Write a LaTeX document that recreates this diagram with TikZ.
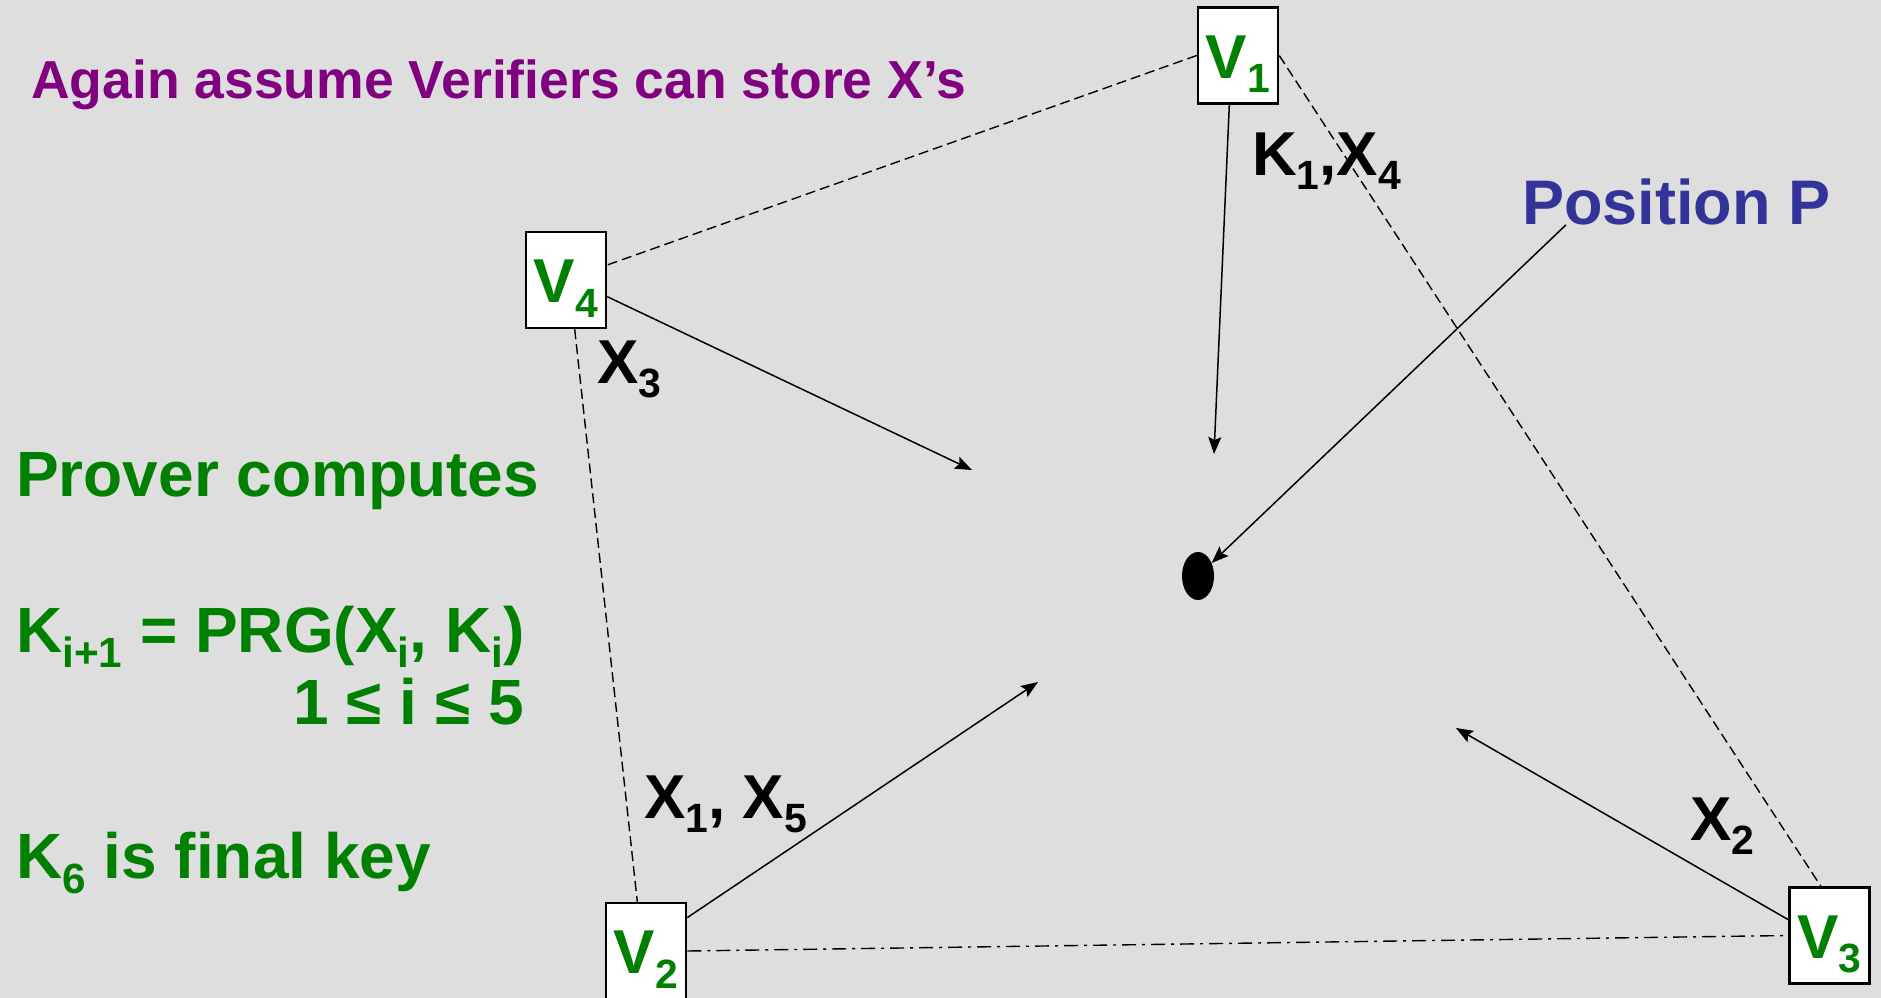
\documentclass[tikz,border=0pt]{standalone}
\usepackage{fontspec}
\setmainfont{Liberation Sans}
\usetikzlibrary{arrows.meta,shapes.geometric}

\definecolor{bggray}{RGB}{222,222,222}
\definecolor{vgreen}{RGB}{0,128,0}
\definecolor{tpurple}{RGB}{128,0,128}
\definecolor{pblue}{RGB}{51,51,153}

% lowered index in the text font
\newcommand{\lo}[1]{\raisebox{-0.24em}{\scalebox{0.66}{#1}}}

\tikzset{
  verifier/.style={draw=black,line width=2.5pt,fill=white,minimum width=80pt,minimum height=96pt,
    inner sep=0pt,text=vgreen,text height=45pt,text depth=0pt,font=\fontsize{62}{62}\selectfont\bfseries},
  lbl/.style={inner sep=0pt,anchor=base west,font=\fontsize{62}{62}\selectfont\bfseries},
  side/.style={lbl,text=vgreen,font=\fontsize{64}{64}\selectfont\bfseries},
  arr/.style={line width=1.5pt,-{Stealth[length=17pt,width=13pt,inset=3pt]}},
  dline/.style={line width=1.4pt,dash pattern=on 10pt off 5pt},
  ddline/.style={line width=1.4pt,dash pattern=on 14pt off 6pt on 3pt off 6pt}
}

\begin{document}
\begin{tikzpicture}[x=1pt,y=-1pt]
    \fill[bggray] (0,0) rectangle (1881,998);
    \useasboundingbox (0,0) rectangle (1881,998);
    % verifiers
    \node[verifier] (v1) at (1238,55.5) {V\lo{1}};
    \node[verifier] (v4) at (566,280) {V\lo{4}};
    \node[verifier] (v2) at (646,951) {V\lo{2}};
    \node[verifier] (v3) at (1829.5,935.5) {V\lo{3}};
    % prover position
    \node[ellipse,fill=black,minimum width=32pt,minimum height=48pt,inner sep=0pt] (dot) at (1198,576) {};
    % side text
    \node[lbl,font=\fontsize{53.5}{53.5}\selectfont\bfseries,text=tpurple] (title) at (31,98) {Again assume Verifiers can store X’s};
    \node[side] (prover) at (16,496) {Prover computes};
    \node[side] (prg) at (16,652) {K\lo{i+1} = PRG(X\lo{i}, K\lo{i})};
    \node[side,anchor=base east] (range) at (524,724) {1 ≤ i ≤ 5};
    \node[side] (final) at (16,878) {K\lo{6} is final key};
    \node[lbl,font=\fontsize{63}{63}\selectfont\bfseries,text=pblue] (posP) at (1522,224) {Position P};
    % message labels
    \node[lbl] (k1x4) at (1252,175) {K\lo{1},X\lo{4}};
    \node[lbl] (x3) at (597,383) {X\lo{3}};
    \node[lbl] (x1x5) at (644,818) {X\lo{1}, X\lo{5}};
    \node[lbl] (x2) at (1690,840) {X\lo{2}};
    % links between verifiers
    \draw[dline] (v1.west) -- (v4.20);
    \draw[dline] (v1.east) -- (v3.100);
    \draw[dline] (v4.-80) -- (v2.100);
    \draw[ddline] (v2.east) -- (v3.west);
    % signals towards the prover
    \coordinate (t1) at (1214,454);
    \coordinate (t4) at (972,470);
    \coordinate (t2) at (1038,682);
    \coordinate (t3) at (1456,728);
    \draw[arr] (v1.-100) -- (t1);
    \draw[arr] (v4.-22) -- (t4);
    \draw[arr] (v2.39) -- (t2);
    \draw[arr] (v3.159) -- (t3);
    \draw[arr] ([xshift=44pt]posP.south west) -- (dot);
\end{tikzpicture}
\end{document}
